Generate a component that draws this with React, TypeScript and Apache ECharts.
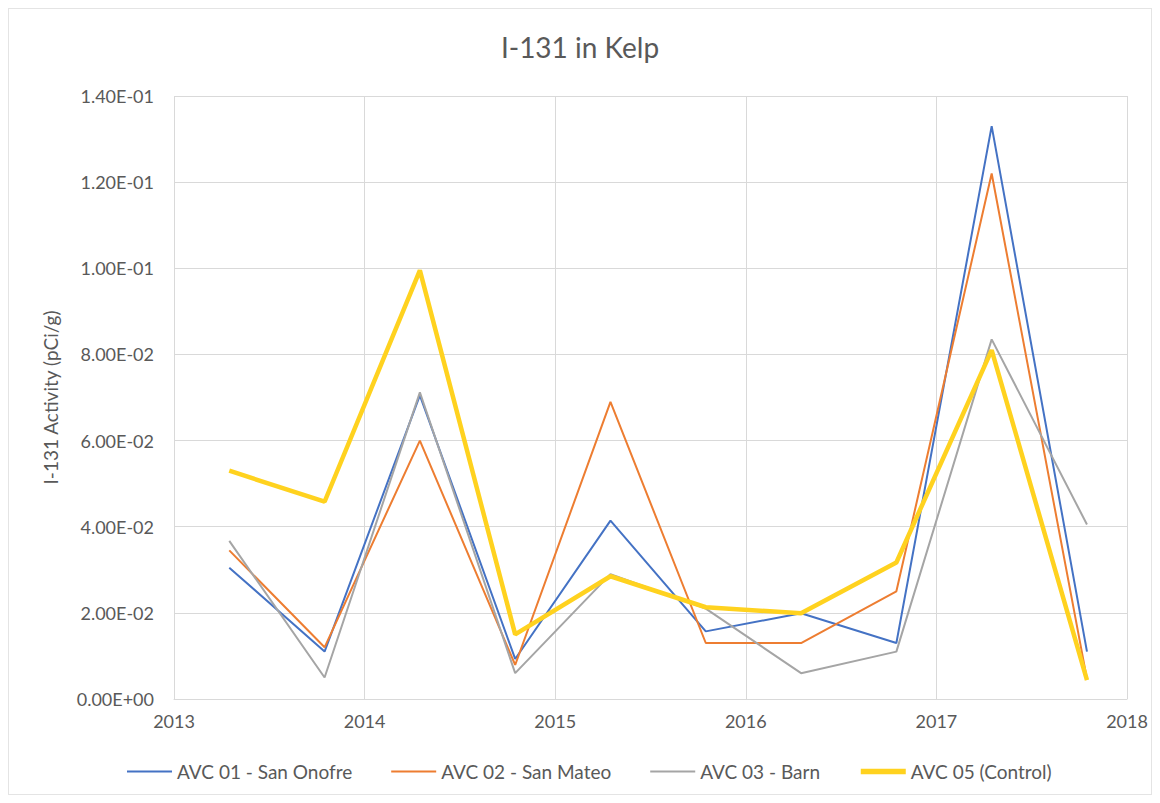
import React, { useEffect, useRef } from "react";
import * as echarts from "echarts";

const dates = [2013.29, 2013.79, 2014.29, 2014.79, 2015.29, 2015.79, 2016.29, 2016.79, 2017.29, 2017.79];
const seriesNames = ["AVC 01 - San Onofre", "AVC 02 - San Mateo", "AVC 03 - Barn", "AVC 05 (Control)"];
const avc01 = [0.0305, 0.011, 0.0705, 0.0093, 0.0414, 0.0157, 0.0199, 0.013, 0.133, 0.011];
const avc02 = [0.0345, 0.012, 0.060, 0.0079, 0.069, 0.013, 0.013, 0.025, 0.122, 0.0046];
const avc03 = [0.0367, 0.005, 0.0712, 0.006, 0.029, 0.021, 0.006, 0.011, 0.0835, 0.0405];
const avc05 = [0.053, 0.0458, 0.0995, 0.015, 0.0285, 0.0213, 0.0199, 0.0317, 0.081, 0.0044];
const colors = ["#4472C4", "#ED7D31", "#A5A5A5", "#FFD21F"];
const widths = [2, 2, 2, 4.5];

const fmtY = (v: number) => {
  if (v === 0) return "0.00E+00";
  const e = Math.floor(Math.log10(Math.abs(v)) + 1e-9);
  const m = v / Math.pow(10, e);
  const es = (e < 0 ? "-" : "+") + String(Math.abs(e)).padStart(2, "0");
  return m.toFixed(2) + "E" + es;
};

export default function App() {
  const ref = useRef<HTMLDivElement>(null);
  useEffect(() => {
    if (!ref.current) return;
    const chart = echarts.init(ref.current, null, { renderer: "svg" });
    const all = [avc01, avc02, avc03, avc05];
    chart.setOption({
      animation: false,
      backgroundColor: "#ffffff",
      textStyle: { fontFamily: "Lato, 'Open Sans', sans-serif" },
      title: {
        text: "I-131 in Kelp",
        left: "center",
        top: 19,
        textStyle: { fontSize: 28, fontWeight: "normal", color: "#595959", fontFamily: "Lato, sans-serif" },
      },
      legend: {
        bottom: 8,
        left: 112,
        itemWidth: 45,
        itemHeight: 12,
        itemGap: 38,
        itemStyle: { opacity: 0 },
        textStyle: { fontSize: 19, color: "#595959" },
        data: seriesNames.map((name, i) => ({
          name,
          lineStyle: { width: widths[i] + (i === 3 ? 1 : 0), color: colors[i] },
        })),
      },
      grid: { left: 165, right: 24, top: 87, bottom: 95, containLabel: false },
      xAxis: {
        type: "value",
        min: 2013,
        max: 2018,
        interval: 1,
        axisLine: { show: true, lineStyle: { color: "#D9D9D9" } },
        axisTick: { show: false },
        splitLine: { show: true, lineStyle: { color: "#D9D9D9" } },
        axisLabel: { color: "#595959", fontSize: 18, margin: 13, formatter: (v: number) => String(v) },
      },
      yAxis: {
        type: "value",
        min: 0,
        max: 0.14,
        interval: 0.02,
        name: "I-131 Activity (pCi/g)",
        nameLocation: "middle",
        nameGap: 114,
        nameTextStyle: { color: "#595959", fontSize: 19 },
        axisLine: { show: false },
        axisTick: { show: false },
        splitLine: { show: true, lineStyle: { color: "#D9D9D9" } },
        axisLabel: { color: "#595959", fontSize: 18, margin: 20, formatter: fmtY },
      },
      series: seriesNames.map((name, i) => ({
        name,
        type: "line",
        symbol: "none",
        data: dates.map((d, j) => [d, all[i][j]]),
        lineStyle: { color: colors[i], width: widths[i] },
        itemStyle: { color: colors[i] },
        z: i === 3 ? 5 : 2,
      })),
    });
    return () => chart.dispose();
  }, []);
  return (
    <div
      ref={ref}
      style={{ width: 1144, height: 787, border: "1px solid #e4e4e4", boxSizing: "border-box" }}
    />
  );
}
